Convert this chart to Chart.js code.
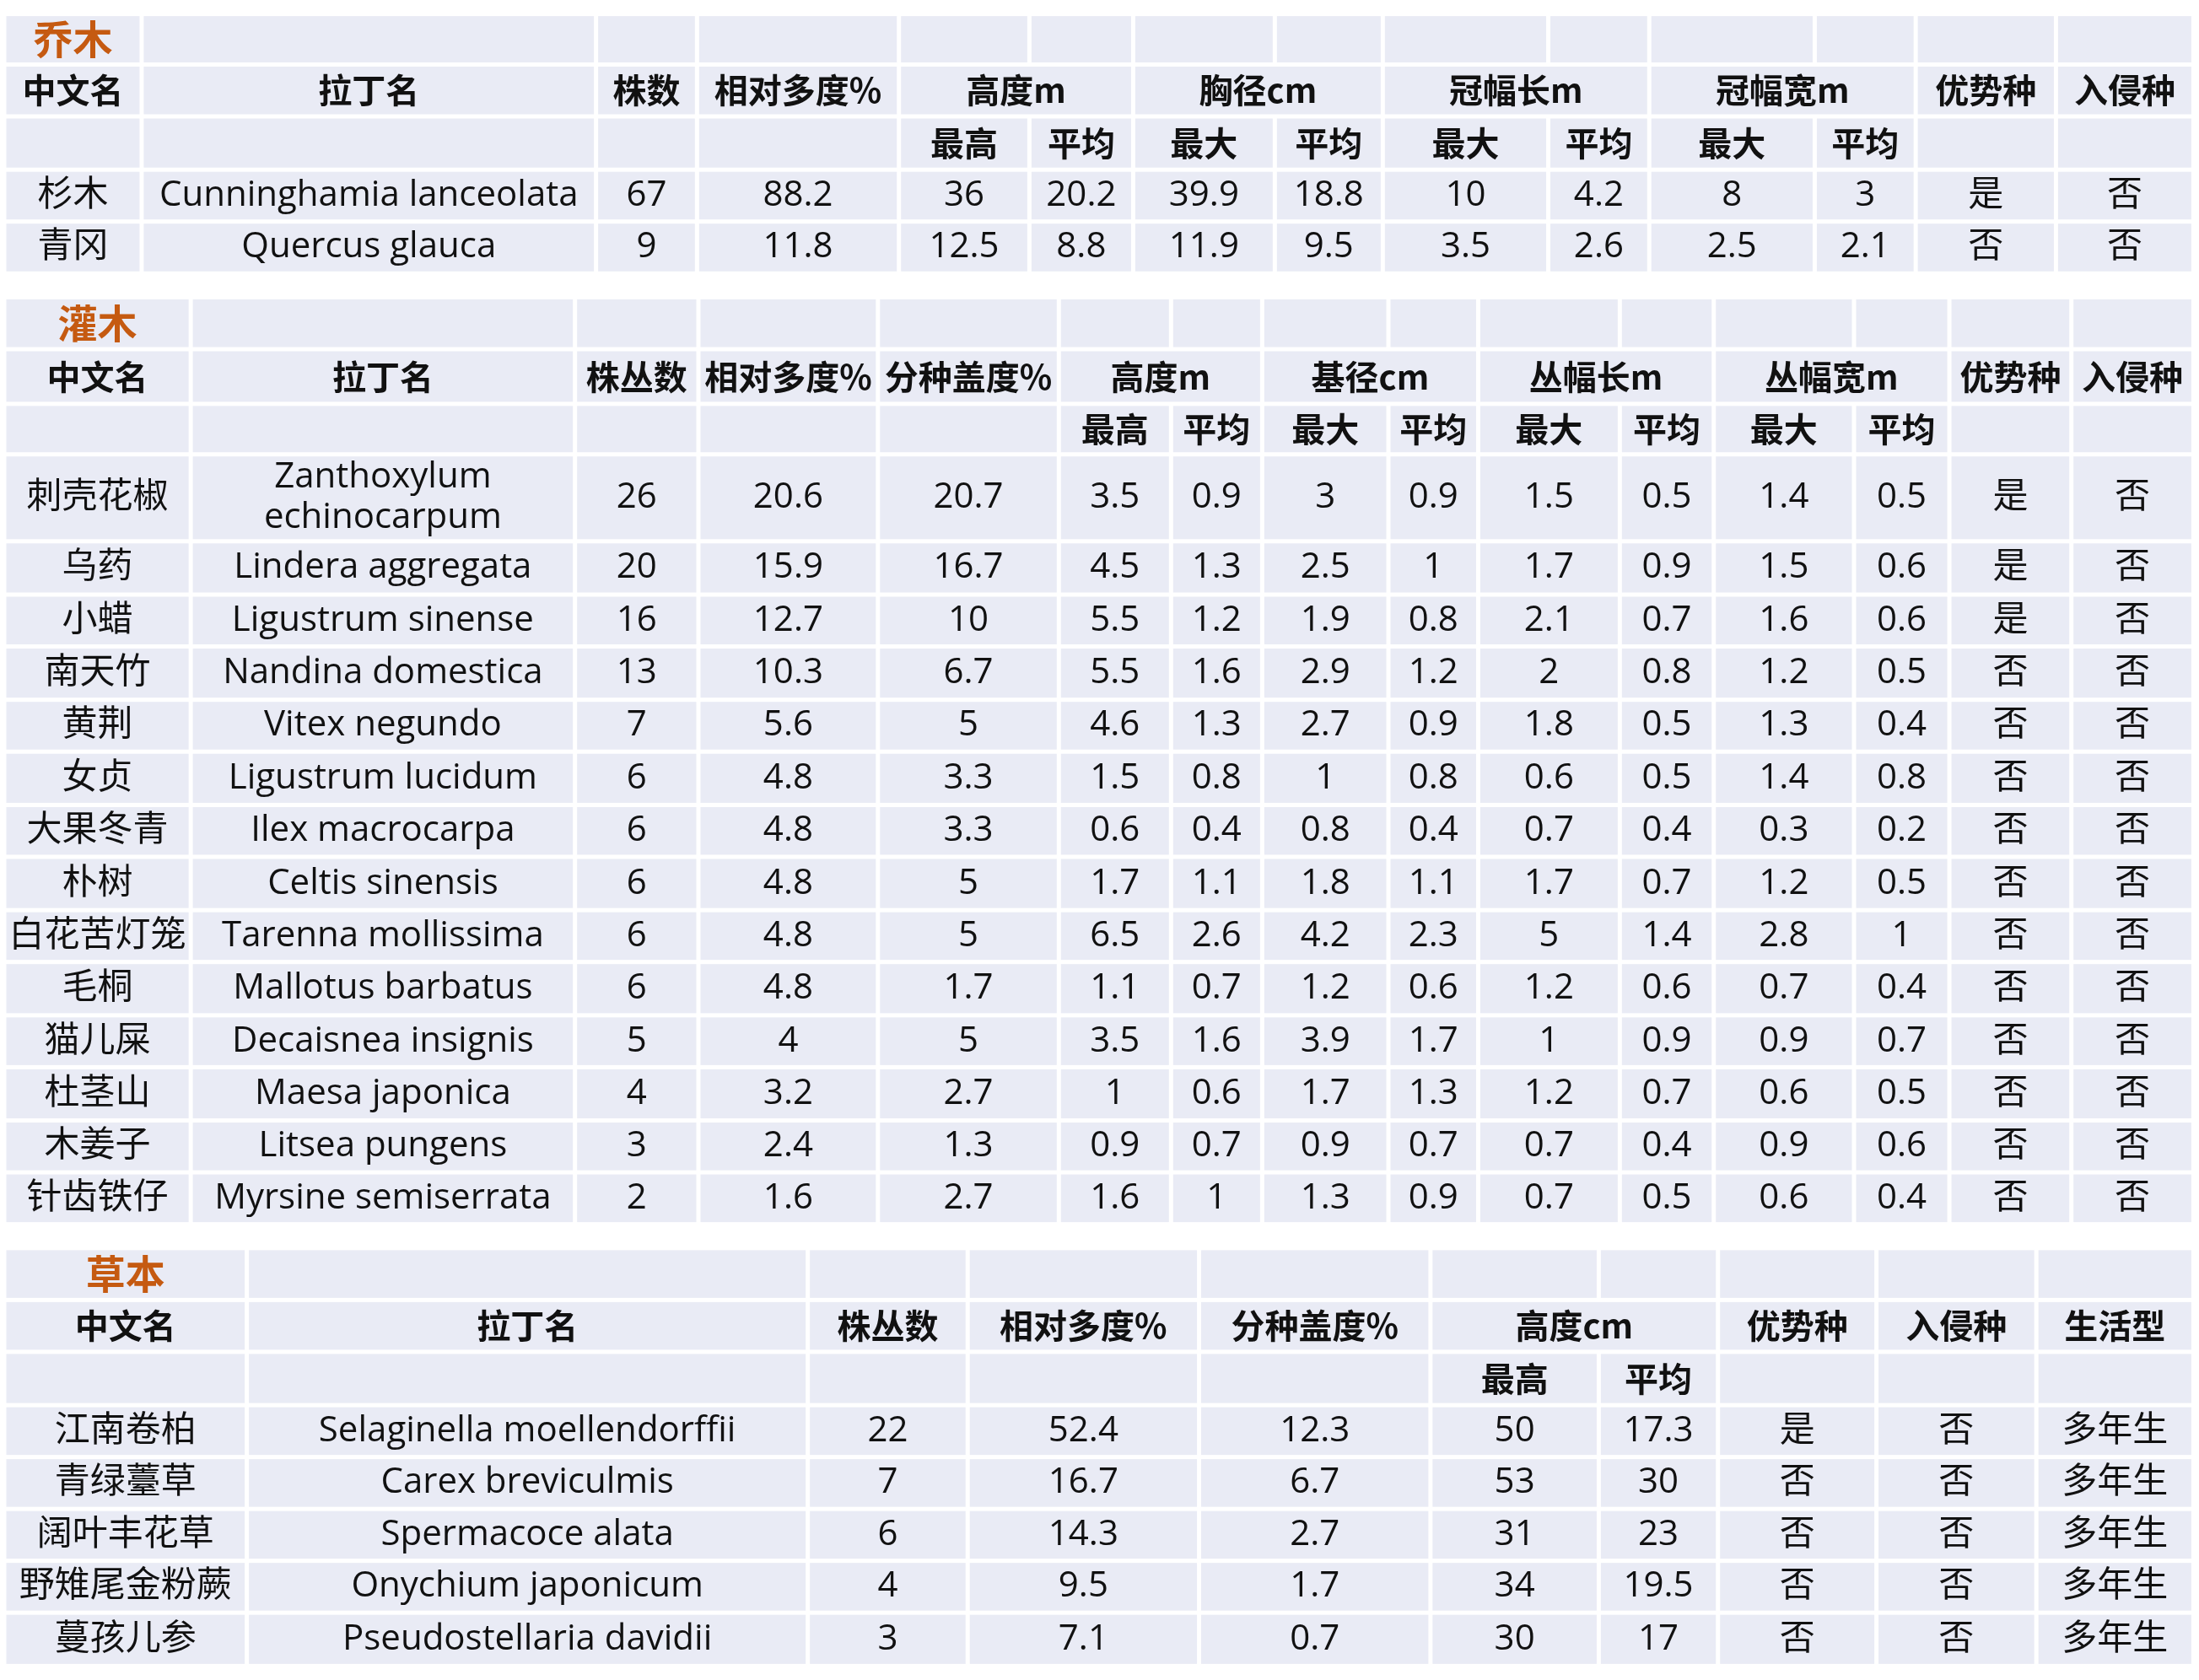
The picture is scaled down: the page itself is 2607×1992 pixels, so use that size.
<!DOCTYPE html>
<html>
<head>
<meta charset="utf-8">
<script src="https://cdn.jsdelivr.net/npm/chart.js@4.4.0/dist/chart.umd.min.js"></script>
<style>
  html, body { margin: 0; padding: 0; background: #fff; }
  #wrap { width: 2607px; height: 1992px; }
</style>
</head>
<body>
<div id="wrap"><canvas id="tbl"></canvas></div>
<script>
// ---- Données ----
const treeHeaders = ['中文名', '拉丁名', '株数', '相对多度%', '高度m', '胸径cm', '冠幅长m', '冠幅宽m', '优势种', '入侵种'];
const treeSub = ['', '', '', '', '最高', '平均', '最大', '平均', '最大', '平均', '最大', '平均', '', ''];
const treeRows = [
    ['杉木', 'Cunninghamia lanceolata', '67', '88.2', '36', '20.2', '39.9', '18.8', '10', '4.2', '8', '3', '是', '否'],
    ['青冈', 'Quercus glauca', '9', '11.8', '12.5', '8.8', '11.9', '9.5', '3.5', '2.6', '2.5', '2.1', '否', '否']
];

const shrubHeaders = ['中文名', '拉丁名', '株丛数', '相对多度%', '分种盖度%', '高度m', '基径cm', '丛幅长m', '丛幅宽m', '优势种', '入侵种'];
const shrubSub = ['', '', '', '', '', '最高', '平均', '最大', '平均', '最大', '平均', '最大', '平均', '', ''];
const shrubRows = [
    ['刺壳花椒', 'Zanthoxylum\nechinocarpum', '26', '20.6', '20.7', '3.5', '0.9', '3', '0.9', '1.5', '0.5', '1.4', '0.5', '是', '否'],
    ['乌药', 'Lindera aggregata', '20', '15.9', '16.7', '4.5', '1.3', '2.5', '1', '1.7', '0.9', '1.5', '0.6', '是', '否'],
    ['小蜡', 'Ligustrum sinense', '16', '12.7', '10', '5.5', '1.2', '1.9', '0.8', '2.1', '0.7', '1.6', '0.6', '是', '否'],
    ['南天竹', 'Nandina domestica', '13', '10.3', '6.7', '5.5', '1.6', '2.9', '1.2', '2', '0.8', '1.2', '0.5', '否', '否'],
    ['黄荆', 'Vitex negundo', '7', '5.6', '5', '4.6', '1.3', '2.7', '0.9', '1.8', '0.5', '1.3', '0.4', '否', '否'],
    ['女贞', 'Ligustrum lucidum', '6', '4.8', '3.3', '1.5', '0.8', '1', '0.8', '0.6', '0.5', '1.4', '0.8', '否', '否'],
    ['大果冬青', 'Ilex macrocarpa', '6', '4.8', '3.3', '0.6', '0.4', '0.8', '0.4', '0.7', '0.4', '0.3', '0.2', '否', '否'],
    ['朴树', 'Celtis sinensis', '6', '4.8', '5', '1.7', '1.1', '1.8', '1.1', '1.7', '0.7', '1.2', '0.5', '否', '否'],
    ['白花苦灯笼', 'Tarenna mollissima', '6', '4.8', '5', '6.5', '2.6', '4.2', '2.3', '5', '1.4', '2.8', '1', '否', '否'],
    ['毛桐', 'Mallotus barbatus', '6', '4.8', '1.7', '1.1', '0.7', '1.2', '0.6', '1.2', '0.6', '0.7', '0.4', '否', '否'],
    ['猫儿屎', 'Decaisnea insignis', '5', '4', '5', '3.5', '1.6', '3.9', '1.7', '1', '0.9', '0.9', '0.7', '否', '否'],
    ['杜茎山', 'Maesa japonica', '4', '3.2', '2.7', '1', '0.6', '1.7', '1.3', '1.2', '0.7', '0.6', '0.5', '否', '否'],
    ['木姜子', 'Litsea pungens', '3', '2.4', '1.3', '0.9', '0.7', '0.9', '0.7', '0.7', '0.4', '0.9', '0.6', '否', '否'],
    ['针齿铁仔', 'Myrsine semiserrata', '2', '1.6', '2.7', '1.6', '1', '1.3', '0.9', '0.7', '0.5', '0.6', '0.4', '否', '否']
];

const herbHeaders = ['中文名', '拉丁名', '株丛数', '相对多度%', '分种盖度%', '高度cm', '优势种', '入侵种', '生活型'];
const herbSub = ['', '', '', '', '', '最高', '平均', '', '', ''];
const herbRows = [
    ['江南卷柏', 'Selaginella moellendorffii', '22', '52.4', '12.3', '50', '17.3', '是', '否', '多年生'],
    ['青绿薹草', 'Carex breviculmis', '7', '16.7', '6.7', '53', '30', '否', '否', '多年生'],
    ['阔叶丰花草', 'Spermacoce alata', '6', '14.3', '2.7', '31', '23', '否', '否', '多年生'],
    ['野雉尾金粉蕨', 'Onychium japonicum', '4', '9.5', '1.7', '34', '19.5', '否', '否', '多年生'],
    ['蔓孩儿参', 'Pseudostellaria davidii', '3', '7.1', '0.7', '30', '17', '否', '否', '多年生']
];

// ---- Mise en page (coordonnées de référence) ----
const sections = [
    {
        title: '乔木', headers: treeHeaders, sub: treeSub, rows: treeRows,
        cols: [3, 101, 425, 497, 641, 734, 808, 909, 986, 1104, 1176, 1294, 1366, 1466, 1564],
        spans: [1, 1, 1, 1, 2, 2, 2, 2, 1, 1],
        ys: [10, 46, 83, 121, 158, 195]
    },
    {
        title: '灌木', headers: shrubHeaders, sub: shrubSub, rows: shrubRows,
        cols: [3, 136, 410, 498, 626, 755, 835, 900, 990, 1054, 1155, 1222, 1322, 1390, 1477, 1564],
        spans: [1, 1, 1, 1, 1, 2, 2, 2, 2, 1, 1],
        ys: [212, 249, 288, 324, 386, 424, 461, 499, 536, 574, 611, 649, 686, 724, 761, 799, 836, 873]
    },
    {
        title: '草本', headers: herbHeaders, sub: herbSub, rows: herbRows,
        cols: [3, 176, 576, 690, 855, 1020, 1140, 1225, 1338, 1452, 1564],
        spans: [1, 1, 1, 1, 1, 2, 1, 1, 1],
        ys: [890, 927, 964, 1002, 1039, 1076, 1113, 1150, 1188]
    }
];

const CELL_BG = '#e9ebf5';
const TITLE_COLOR = '#c55a11';
const CN_FONT = '"Noto Sans CJK SC", "Noto Sans", sans-serif';
const TXT_FONT = '"Open Sans", "Noto Sans CJK SC", sans-serif';

/**
 * Plugin de dessin du tableau via les échelles
 */
const tablePlugin = {
    id: 'tablePlugin',
    afterDraw(chart) {
        const ctx = chart.ctx;
        const sx = chart.scales.x, sy = chart.scales.y;
        const px = v => sx.getPixelForValue(v);
        const py = v => sy.getPixelForValue(v);
        const k = (px(1000) - px(0)) / 1000;
        const gap = 1.5;

        ctx.save();
        ctx.fillStyle = '#fff';
        ctx.fillRect(0, 0, chart.width, chart.height);

        function cell(x0, x1, y0, y1, text, font, color) {
            ctx.fillStyle = CELL_BG;
            ctx.fillRect(px(x0 + gap), py(y0 + gap), px(x1 - gap) - px(x0 + gap), py(y1 - gap) - py(y0 + gap));
            if (!text) return;
            ctx.fillStyle = color || '#111';
            ctx.font = font;
            ctx.textAlign = 'center';
            ctx.textBaseline = 'middle';
            const lines = text.split('\n');
            const lh = 29;
            const cy = (y0 + y1) / 2;
            lines.forEach((ln, i) => {
                ctx.fillText(ln, px((x0 + x1) / 2), py(cy + (i - (lines.length - 1) / 2) * lh));
            });
        }

        const fData = `${Math.round(25 * k)}px ${TXT_FONT}`;
        const fHead = `bold ${Math.round(24 * k)}px ${CN_FONT}`;
        const fTitle = `bold ${Math.round(28 * k)}px ${CN_FONT}`;

        sections.forEach(s => {
            const c = s.cols, y = s.ys;
            // ligne de titre
            for (let i = 0; i < c.length - 1; i++) {
                cell(c[i], c[i + 1], y[0], y[1], i === 0 ? s.title : '', fTitle, TITLE_COLOR);
            }
            // en-têtes fusionnés
            let ci = 0;
            s.headers.forEach((h, j) => {
                const span = s.spans[j];
                cell(c[ci], c[ci + span], y[1], y[2], h, fHead);
                ci += span;
            });
            // sous-en-têtes
            s.sub.forEach((t, i) => cell(c[i], c[i + 1], y[2], y[3], t, fHead));
            // données
            s.rows.forEach((row, r) => {
                row.forEach((v, i) => cell(c[i], c[i + 1], y[3 + r], y[4 + r], v, fData));
            });
        });
        ctx.restore();
    }
};

new Chart(document.getElementById('tbl'), {
    type: 'scatter',
    data: { datasets: [{ data: [] }] },
    options: {
        responsive: true,
        maintainAspectRatio: false,
        animation: false,
        layout: { padding: 0 },
        plugins: { legend: { display: false }, tooltip: { enabled: false } },
        scales: {
            x: { type: 'linear', min: 0, max: 1568, display: false },
            y: { type: 'linear', min: 0, max: 1198, reverse: true, display: false }
        }
    },
    plugins: [tablePlugin]
});
</script>
</body>
</html>
